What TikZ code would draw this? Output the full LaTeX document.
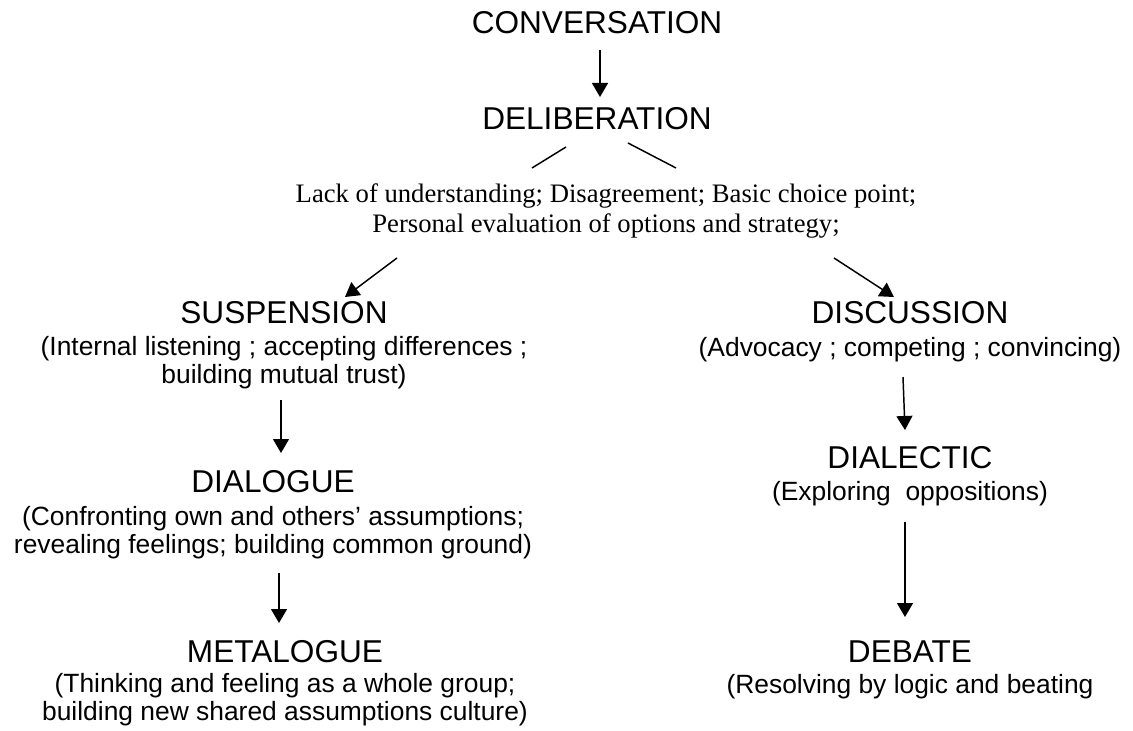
\documentclass[tikz,border=0pt]{standalone}
\usepackage{fontspec}
\setmainfont{Liberation Sans}
\newfontfamily\timesfont{Liberation Serif}
\usetikzlibrary{arrows.meta}
\tikzset{
  ttl/.style={font=\fontsize{23.7pt}{28pt}\selectfont, inner sep=0pt, anchor=base},
  subt/.style={font=\fontsize{19.8pt}{22pt}\selectfont, inner sep=0pt, anchor=base},
  midt/.style={font=\timesfont\fontsize{20pt}{22pt}\selectfont, inner sep=0pt, anchor=base},
  arr/.style={-{Triangle[width=12pt,length=10.5pt]}, line width=1.1pt},
  ln/.style={line width=1.1pt}
}
\begin{document}
\begin{tikzpicture}[x=0.75pt,y=-0.75pt]
\path[use as bounding box, fill=white] (0,0) rectangle (1133,731);

% top
\node[ttl] (conv) at (597,34) {CONVERSATION};
\node[ttl] (delib) at (597,130) {DELIBERATION};
\node[midt] (mid1) at (606,203) {Lack of understanding; Disagreement; Basic choice point;};
\node[midt] (mid2) at (606,233) {Personal evaluation of options and strategy;};

% left column
\node[ttl]  (susp)  at (284,324) {SUSPENSION};
\node[subt] (susp1) at (284,355) {(Internal listening ; accepting differences ;};
\node[subt] (susp2) at (284,383) {building mutual trust)};
\node[ttl]  (dial)  at (273,492) {DIALOGUE};
\node[subt] (dial1) at (273,525) {(Confronting own and others’ assumptions;};
\node[subt] (dial2) at (273,553) {revealing feelings; building common ground)};
\node[ttl]  (meta)  at (285,662) {METALOGUE};
\node[subt] (meta1) at (285,692) {(Thinking and feeling as a whole group;};
\node[subt] (meta2) at (285,720) {building new shared assumptions culture)};

% right column
\node[ttl]  (disc)  at (910,324) {DISCUSSION};
\node[subt] (disc1) at (910,357) {(Advocacy ; competing ; convincing)};
\node[ttl]  (dlec)  at (910,468) {DIALECTIC};
\node[subt] (dlec1) at (910,500) {(Exploring\ \ oppositions)};
\node[ttl]  (deb)   at (910,662) {DEBATE};
\node[subt] (deb1)  at (910,693) {(Resolving by logic and beating};

% connector end points
\coordinate (a1s) at (600,50);  \coordinate (a1e) at (600,97);
\coordinate (l1s) at (566,147); \coordinate (l1e) at (532,168);
\coordinate (l2s) at (628,143); \coordinate (l2e) at (676,168);
\coordinate (a2s) at (397,258); \coordinate (a2e) at (345,297);
\coordinate (a3s) at (834,258); \coordinate (a3e) at (894,297);
\coordinate (a4s) at (281,400); \coordinate (a4e) at (281,453);
\coordinate (a5s) at (279,573); \coordinate (a5e) at (279,623);
\coordinate (a6s) at (903,377); \coordinate (a6e) at (905,430);
\coordinate (a7s) at (905,522); \coordinate (a7e) at (905,617);

\draw[arr] (a1s) -- (a1e);
\draw[ln]  (l1s) -- (l1e);
\draw[ln]  (l2s) -- (l2e);
\draw[arr] (a2s) -- (a2e);
\draw[arr] (a3s) -- (a3e);
\draw[arr] (a4s) -- (a4e);
\draw[arr] (a5s) -- (a5e);
\draw[arr] (a6s) -- (a6e);
\draw[arr] (a7s) -- (a7e);
\end{tikzpicture}
\end{document}
